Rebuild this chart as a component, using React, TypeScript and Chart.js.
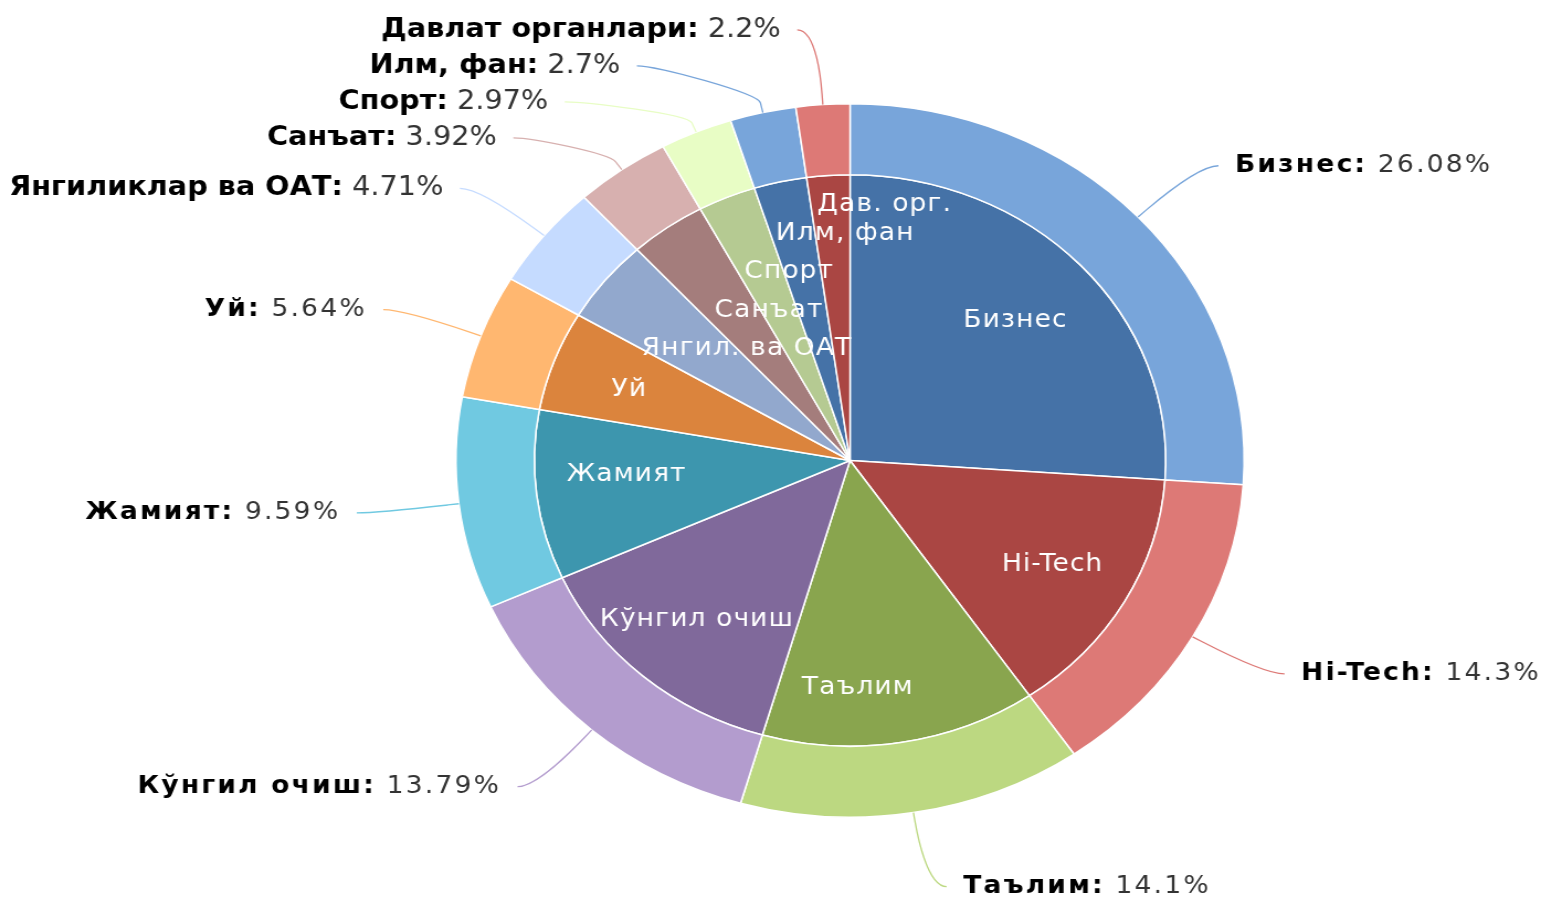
import React, { useEffect, useRef } from 'react';
import { Chart, registerables } from 'chart.js';

Chart.register(...registerables);

// ---------- data ----------
const categories = [
  'Бизнес', 'Hi-Tech', 'Таълим', 'Кўнгил очиш', 'Жамият', 'Уй',
  'Янгиликлар ва ОАТ', 'Санъат', 'Спорт', 'Илм, фан', 'Давлат органлари',
];
const shortNames = [
  'Бизнес', 'Hi-Tech', 'Таълим', 'Кўнгил очиш', 'Жамият', 'Уй',
  'Янгил. ва ОАТ', 'Санъат', 'Спорт', 'Илм, фан', 'Дав. орг.',
];
const shares = [26.08, 14.3, 14.1, 13.79, 9.59, 5.64, 4.71, 3.92, 2.97, 2.7, 2.2];

// ---------- styles ----------
const basePalette = ['#4572A7', '#AA4643', '#89A54E', '#80699B', '#3D96AE', '#DB843D', '#92A8CD', '#A47D7C', '#B5CA92'];
const brighten = (hex: string, amt: number) => {
  const n = parseInt(hex.slice(1), 16);
  const c = [(n >> 16) & 255, (n >> 8) & 255, n & 255].map((v) => Math.min(255, Math.round(v + 255 * amt)));
  return `rgb(${c[0]},${c[1]},${c[2]})`;
};
const darkColors = categories.map((_, i) => basePalette[i % basePalette.length]);
const lightColors = darkColors.map((c) => brighten(c, 0.2));

// inner label placement (fraction of inner radius along the slice mid-angle, then a pixel nudge)
const innerLabelRadius = [0.717, 0.738, 0.805, 0.74, 0.713, 0.709, 0.619, 0.643, 0.718, 0.814, 0.897];
const innerLabelNudge: [number, number][] = [
  [0, 0], [0, 0], [-30, 0], [0, 0], [0, -10], [-10, 0], [44, 0], [33, 0], [25, 0], [47, 0], [49, 0],
];
// outer labels drawn in the taller, tighter style
const tallLabel = [false, false, false, false, false, false, true, true, true, true, true];

const CANVAS_W = 1414;
const CANVAS_H = 901;
const LABEL_DISTANCE = 75;
const LABEL_GAP = 36;

const labelsPlugin = {
  id: 'pieLabels',
  afterDatasetsDraw(chart: any) {
    const ctx: CanvasRenderingContext2D = chart.ctx;
    const outer = chart.getDatasetMeta(0).data as any[];
    const inner = chart.getDatasetMeta(1).data as any[];

    // inner labels
    ctx.save();
    ctx.fillStyle = '#ffffff';
    ctx.font = '24px "DejaVu Sans"';
    ctx.textAlign = 'center';
    ctx.textBaseline = 'middle';
    (ctx as any).letterSpacing = '1px';
    inner.forEach((arc, i) => {
      const mid = (arc.startAngle + arc.endAngle) / 2;
      const r = arc.outerRadius * innerLabelRadius[i];
      const [nx, ny] = innerLabelNudge[i];
      ctx.fillText(shortNames[i], arc.x + r * Math.cos(mid) + nx, arc.y + r * Math.sin(mid) + ny);
    });
    ctx.restore();

    // outer labels with connectors
    const R = outer[0].outerRadius;
    const cx = outer[0].x;
    const cy = outer[0].y;
    const Rd = R + LABEL_DISTANCE;
    const items = outer.map((arc, i) => {
      const mid = (arc.startAngle + arc.endAngle) / 2;
      const side = Math.cos(mid) >= 0 ? 1 : -1;
      return { i, mid, side, y: cy + Rd * Math.sin(mid) };
    });
    [1, -1].forEach((side) => {
      const list = items.filter((it) => it.side === side).sort((a, b) => a.y - b.y);
      for (let k = 1; k < list.length; k++) {
        list[k].y = Math.max(list[k].y, list[k - 1].y + LABEL_GAP);
      }
    });

    items.forEach((it) => {
      const { i, mid, side, y } = it;
      const dy = Math.max(-Rd, Math.min(Rd, y - cy));
      const dx = Math.sqrt(Math.max(0, Rd * Rd - dy * dy));
      const xe = cx + side * dx;
      const ex = cx + R * Math.cos(mid);
      const ey = cy + R * Math.sin(mid);
      const bx = cx + (R + 10) * Math.cos(mid);
      const by = cy + (R + 10) * Math.sin(mid);

      ctx.save();
      ctx.strokeStyle = lightColors[i];
      ctx.lineWidth = 1.3;
      ctx.beginPath();
      ctx.moveTo(xe + side * 18, y);
      ctx.bezierCurveTo(xe, y, 2 * bx - ex, 2 * by - ey, bx, by);
      ctx.lineTo(ex, ey);
      ctx.stroke();
      ctx.restore();

      const size = tallLabel[i] ? 26 : 24;
      const spacing = tallLabel[i] ? '0px' : '2px';
      const nameText = categories[i] + ':';
      const valueText = ' ' + shares[i] + '%';
      ctx.save();
      ctx.textBaseline = 'middle';
      (ctx as any).letterSpacing = spacing;
      ctx.font = `bold ${size}px "DejaVu Sans"`;
      const nameW = ctx.measureText(nameText).width;
      ctx.font = `${size}px "DejaVu Sans"`;
      const valueW = ctx.measureText(valueText).width;
      const start = side > 0 ? xe + 33 : xe - 33 - nameW - valueW;
      ctx.textAlign = 'left';
      ctx.font = `bold ${size}px "DejaVu Sans"`;
      ctx.fillStyle = '#000000';
      ctx.fillText(nameText, start, y);
      ctx.font = `${size}px "DejaVu Sans"`;
      ctx.fillStyle = '#333333';
      ctx.fillText(valueText, start + nameW, y);
      ctx.restore();
    });
  },
};

export default function App() {
  const ref = useRef<HTMLCanvasElement>(null);

  useEffect(() => {
    if (!ref.current) return;
    const chart = new Chart(ref.current, {
      type: 'doughnut',
      data: {
        labels: categories,
        datasets: [
          {
            data: shares,
            backgroundColor: lightColors,
            borderColor: '#ffffff',
            borderWidth: 1.5,
            weight: 71,
          },
          {
            data: shares,
            backgroundColor: darkColors,
            borderColor: '#ffffff',
            borderWidth: 1.5,
            weight: 286,
          },
        ],
      },
      options: {
        responsive: false,
        animation: false,
        devicePixelRatio: 1,
        cutout: 0,
        layout: { padding: { left: 412, right: CANVAS_W - 412 - 715, top: 103, bottom: CANVAS_H - 103 - 715 } },
        plugins: {
          legend: { display: false },
          tooltip: { enabled: false },
        },
      } as any,
      plugins: [labelsPlugin],
    });
    return () => chart.destroy();
  }, []);

  return (
    <div style={{ position: 'fixed', left: 0, top: 0, width: 1562, height: 901, background: '#ffffff' }}>
      <canvas
        ref={ref}
        width={CANVAS_W}
        height={CANVAS_H}
        style={{ width: '1562px', height: '901px', display: 'block' }}
      />
    </div>
  );
}
